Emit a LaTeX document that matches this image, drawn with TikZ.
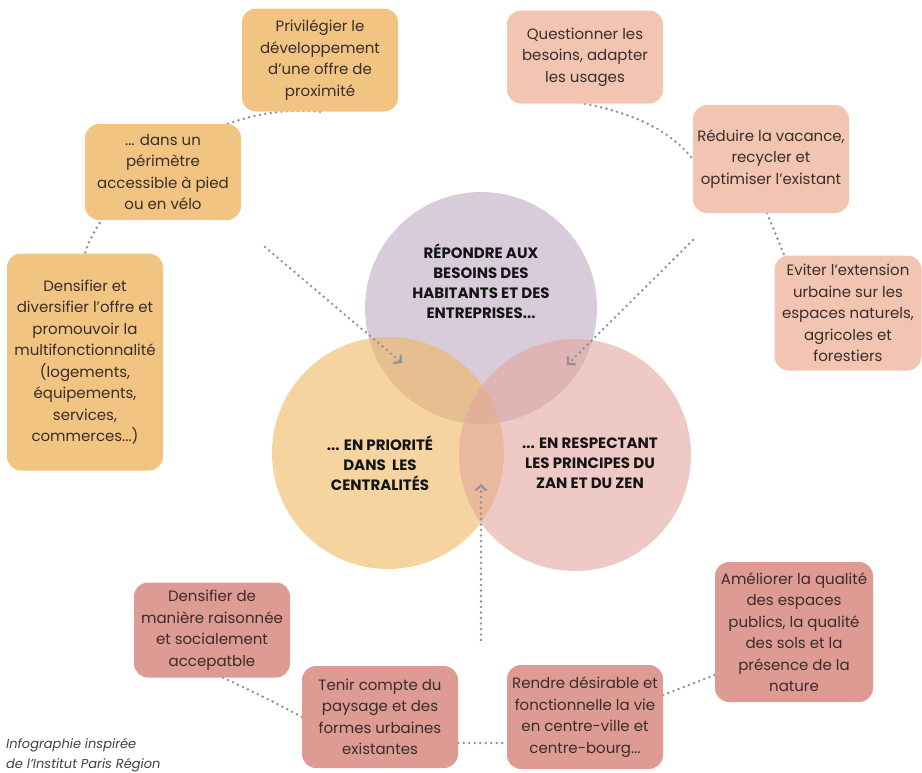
\documentclass[tikz,border=0pt]{standalone}
\usepackage{fontspec}
\setmainfont{Poppins}
\usetikzlibrary{arrows.meta,backgrounds}

\definecolor{vennviolet}{RGB}{190,170,193}
\definecolor{vennorange}{RGB}{238,183,95}
\definecolor{vennpink}{RGB}{228,165,158}
\definecolor{boxorange}{RGB}{242,196,130}
\definecolor{boxsalmon}{RGB}{241,197,178}
\definecolor{boxrose}{RGB}{221,155,148}
\definecolor{boxtext}{RGB}{58,45,42}
\definecolor{linkgray}{RGB}{145,145,155}

\tikzset{
  venn/.style={circle, minimum size=232pt, inner sep=0pt, fill opacity=0.6},
  venntext/.style={align=center, text=black!92, font=\bfseries\fontsize{15}{20}\selectfont},
  box/.style={rectangle, rounded corners=14pt, minimum width=156pt, inner sep=2pt,
    align=center, text=boxtext, font=\fontsize{15}{21.5}\selectfont},
  link/.style={draw=linkgray, line width=2.8pt, line cap=round, dash pattern=on 0pt off 5.5pt},
  flow/.style={link, -{Straight Barb[length=5pt,width=11pt,line width=2.2pt,line cap=butt]}},
}

\begin{document}
\begin{tikzpicture}[x=1pt,y=-1pt]
\useasboundingbox (0,0) rectangle (922,772);

% the three circles
\begin{scope}[on background layer]
  \node[venn,fill=vennviolet] (besoins) at (481,308) {};
  \node[venn,fill=vennorange] (priorite) at (388,453) {};
  \node[venn,fill=vennpink] (respect) at (575,455) {};
\end{scope}
\node[venntext] (besoinstxt) at (481,281) {RÉPONDRE AUX\\BESOINS DES\\HABITANTS ET DES\\ENTREPRISES...};
\node[venntext] (prioritetxt) at (380,463) {... EN PRIORITÉ\\DANS~ LES\\CENTRALITÉS};
\node[venntext] (respecttxt) at (590,463) {... EN RESPECTANT\\LES PRINCIPES DU\\ZAN ET DU ZEN};

% left group
\node[box,fill=boxorange,minimum height=103pt] (proxi) at (320,60) {Privilégier le\\développement\\d’une offre de\\proximité};
\node[box,fill=boxorange,minimum height=96pt] (perim) at (163,172) {... dans un\\périmètre\\accessible à pied\\ou en vélo};
\node[box,fill=boxorange,minimum height=217pt] (diversif) at (85,362) {Densifier et\\diversifier l’offre et\\promouvoir la\\multifonctionnalité\\(logements,\\équipements,\\services,\\commerces...)};

% right group
\node[box,fill=boxsalmon,minimum height=93pt] (usages) at (585,57) {Questionner les\\besoins, adapter\\les usages};
\node[box,fill=boxsalmon,minimum height=108pt] (vacance) at (771,159) {Réduire la vacance,\\recycler et\\optimiser l’existant};
\node[box,fill=boxsalmon,minimum height=115pt,minimum width=147pt] (extension) at (848,313) {Eviter l’extension\\urbaine sur les\\espaces naturels,\\agricoles et\\forestiers};

% bottom group
\node[box,fill=boxrose,minimum height=95pt] (raison) at (212,630) {Densifier de\\manière raisonnée\\et socialement\\accepatble};
\node[box,fill=boxrose,minimum height=102pt] (paysage) at (380,717) {Tenir compte du\\paysage et des\\formes urbaines\\existantes};
\node[box,fill=boxrose,minimum height=104pt] (desir) at (585,717) {Rendre désirable et\\fonctionnelle la vie\\en centre-ville et\\centre-bourg...};
\node[box,fill=boxrose,minimum height=140pt,minimum width=158pt] (nature) at (794,632) {Améliorer la qualité\\des espaces\\publics, la qualité\\des sols et la\\présence de la\\nature};

% dotted links behind the boxes
\begin{scope}[on background layer]
  \draw[link] (proxi.south) .. controls (200,100) and (100,200) .. (diversif.north);
  \draw[link] (usages.south) .. controls (625,112) and (665,125) .. (vacance.west);
  \draw[link] ([xshift=-4pt]vacance.south) -- ([xshift=10pt]extension.north west);
  \draw[link] ([xshift=11pt]raison.south) .. controls (250,690) and (280,705) .. (paysage.west);
  \draw[link] ([yshift=-26pt]paysage.east) -- ([yshift=-26pt]desir.west);
  \draw[link] ([yshift=22pt]desir.east) -- ([yshift=-43pt]nature.west);
\end{scope}

% arrows into the centre
\coordinate (arrAfrom) at (265,247);
\coordinate (arrAto) at (402,363);
\coordinate (arrBfrom) at (693,240);
\coordinate (arrBto) at (567,365);
\coordinate (arrCfrom) at (481,640);
\coordinate (arrCto) at (481,484);
\draw[flow] (arrAfrom) -- (arrAto);
\draw[flow] (arrBfrom) -- (arrBto);
\draw[flow] (arrCfrom) -- (arrCto);

\node[anchor=north west, align=left, text=black!75, inner sep=0pt,
  font=\itshape\fontsize{13}{20}\selectfont] (credit) at (6,738) {Infographie inspirée\\de l’Institut Paris Région};
\end{tikzpicture}
\end{document}
